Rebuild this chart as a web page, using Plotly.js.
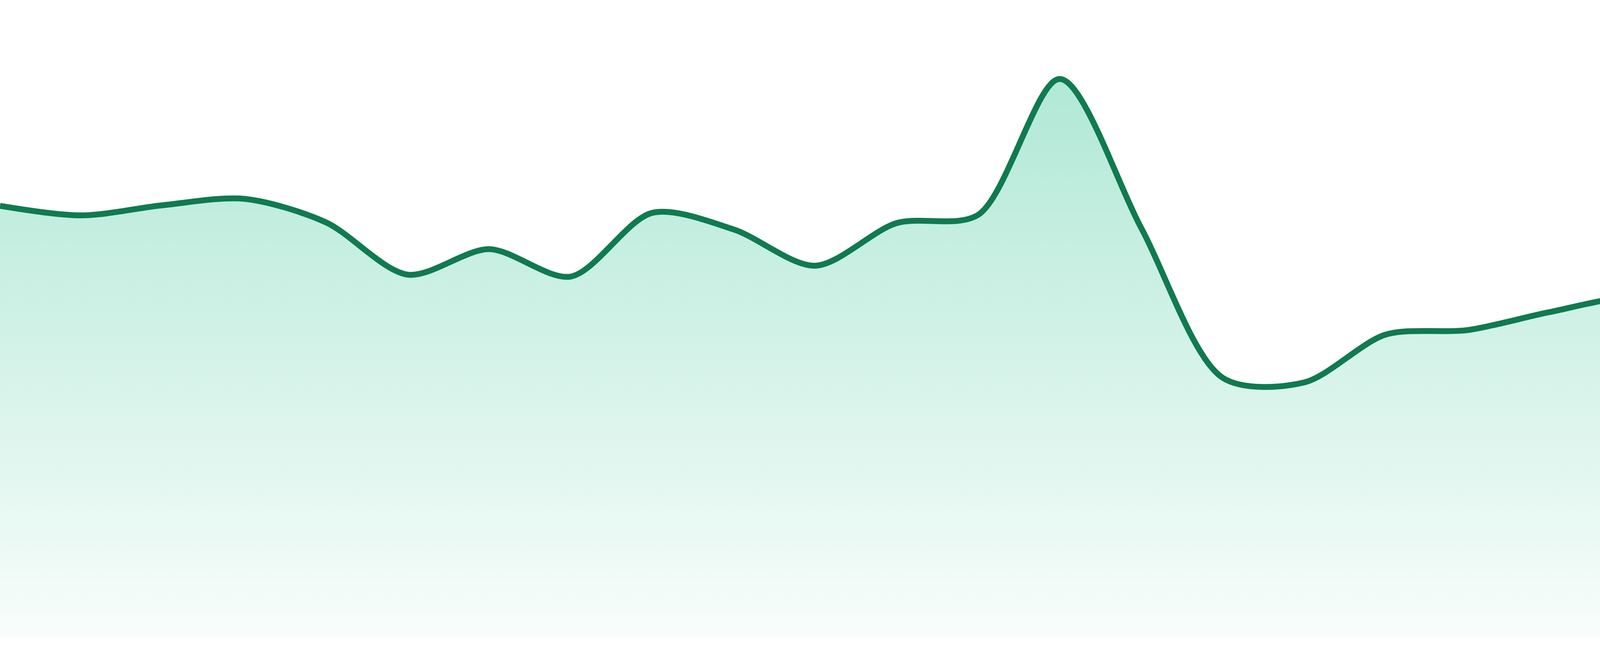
<!DOCTYPE html>
<html>
<head>
<meta charset="utf-8">
<script src="https://cdn.plot.ly/plotly-3.0.1.min.js"></script>
<style>
  html, body { margin: 0; padding: 0; background: #fff; }
  #chart { width: 4800px; height: 1680px; }
</style>
</head>
<body>
<div id="chart"></div>
<script>
// one point per period
var periods = [];
for (var i = 0; i < 24; i++) periods.push(i);

var values = [67.7, 66.2, 67.8, 68.8, 65.1, 56.9, 60.9, 56.6, 66.6, 64.0, 58.3, 65.0,
              66.3, 87.6, 64.2, 40.7, 40.0, 47.5, 48.2, 51.0, 53.3, 51.1, 39.6, 42.8];

var lineColor = "#107a50";

var trace = {
  type: "scatter",
  mode: "lines",
  x: periods,
  y: values,
  line: { color: lineColor, width: 15, shape: "spline", smoothing: 0.85 },
  fill: "tozeroy",
  fillgradient: {
    type: "vertical",
    start: 0,
    stop: 100,
    colorscale: [
      [0, "rgba(16, 185, 129, 0.03)"],
      [1, "rgba(16, 185, 129, 0.37)"]
    ]
  },
  hoverinfo: "skip"
};

var layout = {
  width: 4800,
  height: 1680,
  margin: { l: 0, r: 0, t: 0, b: 48 },
  paper_bgcolor: "#ffffff",
  plot_bgcolor: "#ffffff",
  showlegend: false,
  xaxis: { range: [0, 23], visible: false, fixedrange: true },
  yaxis: { range: [0, 100], visible: false, fixedrange: true }
};

Plotly.newPlot("chart", [trace], layout, { displayModeBar: false, staticPlot: true });
</script>
</body>
</html>
